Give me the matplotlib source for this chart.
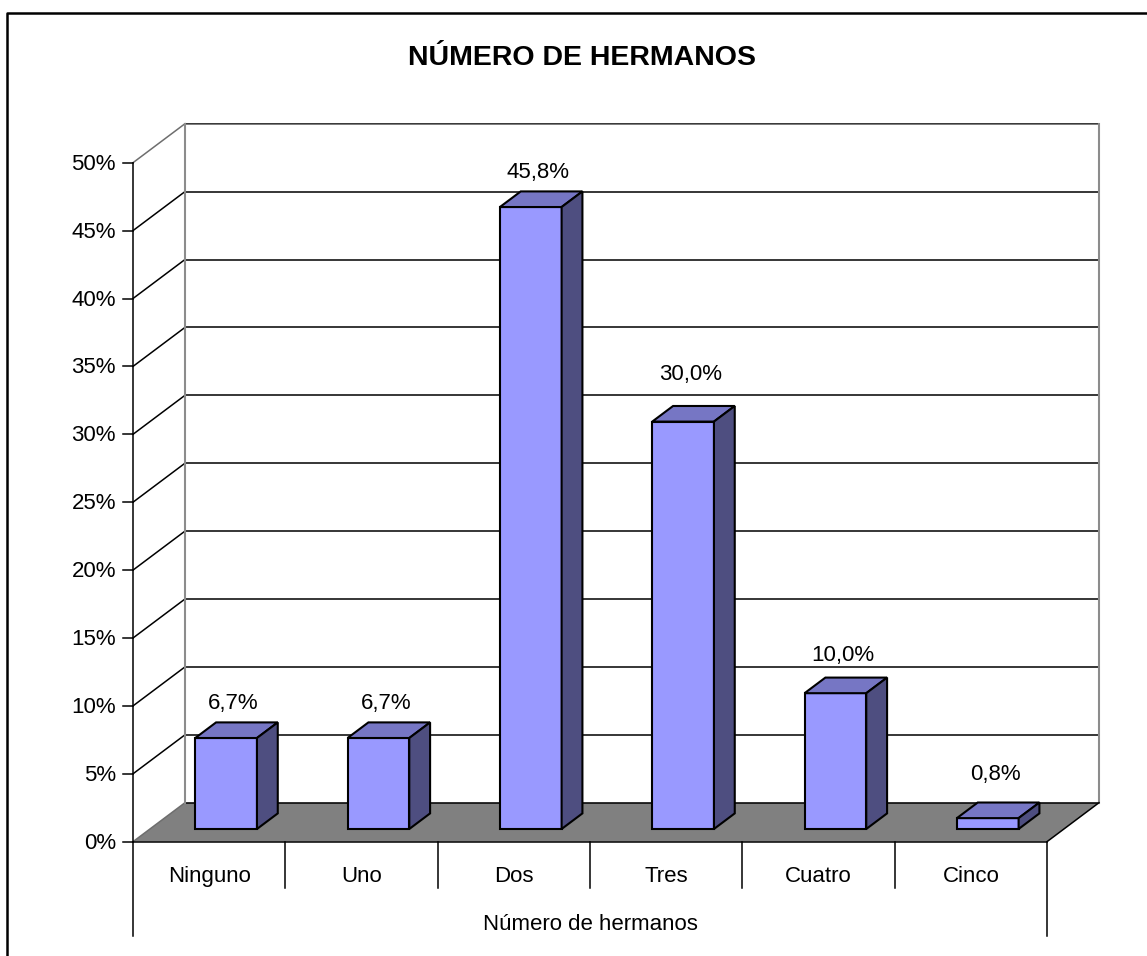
import matplotlib
matplotlib.use("Agg")
import matplotlib.pyplot as plt
from matplotlib.patches import Polygon

plt.rcParams['font.family'] = ['Liberation Sans', 'DejaVu Sans']

# ---- data ----
categories = ["Ninguno", "Uno", "Dos", "Tres", "Cuatro", "Cinco"]
values = [6.7, 6.7, 45.8, 30.0, 10.0, 0.8]
value_labels = ["6,7%", "6,7%", "45,8%", "30,0%", "10,0%", "0,8%"]
yticks = [0, 5, 10, 15, 20, 25, 30, 35, 40, 45, 50]
ytick_labels = [f"{t}%" for t in yticks]
title = "NÚMERO DE HERMANOS"
xlabel = "Número de hermanos"

# ---- layout ----
W, H = 1147, 956
fig = plt.figure(figsize=(W / 100, H / 100), dpi=100)
ax = fig.add_axes([0, 0, 1, 1])
px_x = 152.33   # pixels per category
px_y = 13.58    # pixels per percent
x0_px, y0_px = 133, 841.7
ax.set_xlim(-x0_px / px_x, (W - x0_px) / px_x)
ax.set_ylim(-(H - y0_px) / px_y, y0_px / px_y)
ax.axis('off')

DX = 52 / px_x   # depth offset (data units)
DY = 39 / px_y
n = len(categories)
ymax = yticks[-1]
label_gap_px = [13, 13, 13, 26, 17, 23]   # label placement gap (style)

def P(x, y, z=0.0):
    return (x + DX * z, y + DY * z)

lw = 1.1
# floor
floor = Polygon([P(0, 0), P(n, 0), P(n, 0, 1), P(0, 0, 1)], closed=True,
                facecolor='#808080', edgecolor='none', zorder=1)
ax.add_patch(floor)

# gridlines on side wall and back wall
for t in yticks:
    ax.plot(*zip(P(0, t), P(0, t, 1)), color='#6e6e6e' if t in (0, ymax) else 'black', lw=lw, zorder=2)
    ax.plot(*zip(P(0, t, 1), P(n, t, 1)), color='black', lw=lw, zorder=2)
# back wall frame
ax.plot(*zip(P(0, 0, 1), P(0, ymax, 1)), color='#8c8c8c', lw=1.5, zorder=2)
ax.plot(*zip(P(n, 0, 1), P(n, ymax, 1)), color='#8c8c8c', lw=1.5, zorder=2)
ax.plot(*zip(P(0, ymax, 1), P(n, ymax, 1)), color='#8c8c8c', lw=0.6, zorder=2.1)
# floor right diagonal and front edge
ax.plot(*zip(P(n, 0), P(n, 0, 1)), color='black', lw=lw, zorder=3)
ax.plot(*zip(P(0, 0), P(n, 0)), color='black', lw=lw, zorder=3)

# front value axis
ax.plot([0, 0], [0, ymax], color='black', lw=lw, zorder=3)
tick_len = 10 / px_x
for t, lab in zip(yticks, ytick_labels):
    ax.plot([-tick_len, 0], [t, t], color='black', lw=lw, zorder=3)
    ax.text(-17 / px_x, t - 1.5 / px_y, lab, ha='right', va='center', fontsize=16, zorder=3)

# bars
bw = 0.405
z0, z1 = 0.326, 0.726
front_c, top_c, side_c = '#9999FF', '#7676C4', '#4E4E80'
for i, v in enumerate(values):
    xl = i + 0.5 - bw / 2
    xr = i + 0.5 + bw / 2
    front = [P(xl, 0, z0), P(xr, 0, z0), P(xr, v, z0), P(xl, v, z0)]
    top = [P(xl, v, z0), P(xr, v, z0), P(xr, v, z1), P(xl, v, z1)]
    side = [P(xr, 0, z0), P(xr, 0, z1), P(xr, v, z1), P(xr, v, z0)]
    for poly, c in ((front, front_c), (top, top_c), (side, side_c)):
        ax.add_patch(Polygon(poly, closed=True, facecolor=c, edgecolor='black',
                             lw=1.5, joinstyle='miter', zorder=4))
    lx, ly = P(i + 0.5, v, (z0 + z1) / 2)
    ax.text(lx - 3 / px_x, v + DY * z1 + label_gap_px[i] / px_y, value_labels[i],
            ha='center', va='baseline', fontsize=16, zorder=5)

# category axis table
lab_y = -(882 - y0_px) / px_y
sep_y = -(888 - y0_px) / px_y
out_y = -(936 - y0_px) / px_y
for i in range(n + 1):
    yb = out_y if i in (0, n) else sep_y
    ax.plot([i, i], [0, yb], color='black', lw=lw, zorder=3)
for i, c in enumerate(categories):
    ax.text(i + 0.5, lab_y, c, ha='center', va='baseline', fontsize=16)
ax.text(n / 2, -(930 - y0_px) / px_y, xlabel, ha='center', va='baseline', fontsize=16)

# title
ax.text(582 / W, 1 - 65 / H, title, transform=ax.transAxes, ha='center', va='baseline',
        fontsize=20.5, fontweight='bold')

# outer border (left and top visible)
bx, by = 7 / W, 1 - 13 / H
ax.plot([bx, bx, 1.0], [0.0, by, by], transform=ax.transAxes, color='black', lw=1.8,
        clip_on=False, zorder=6)

fig.savefig("out.png", dpi=100)
